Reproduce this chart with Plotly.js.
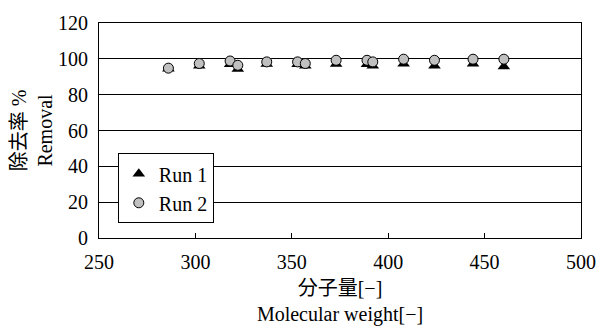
<!DOCTYPE html>
<html>
<head>
<meta charset="utf-8">
<script src="https://cdn.plot.ly/plotly-3.0.1.min.js"></script>
<style>html,body{margin:0;padding:0;background:#fff;}#chart{width:599px;height:326px;}</style>
</head>
<body>
<div id="chart"></div>
<script>
const molecularWeight = [286, 302, 318, 322, 337, 353, 357, 373, 389, 392, 408, 424, 444, 460];
const run1Removal = [94.5, 96.2, 97, 94.3, 97.1, 97, 96.2, 97.1, 97, 96.2, 97.2, 96.2, 97.2, 95.7];
const run2Removal = [94.8, 97.4, 98.8, 96.4, 98.3, 98.3, 97.4, 99.2, 99.2, 98.3, 99.8, 99.2, 99.8, 99.8];
const seriesNames = ["Run 1", "Run 2"];
const xTicks = [250, 300, 350, 400, 450, 500];
const yTicks = [0, 20, 40, 60, 80, 100, 120];

const FONT = "Liberation Serif, Noto Sans CJK JP, serif";

const traces = [
  {
    x: molecularWeight, y: run1Removal, name: seriesNames[0], type: "scatter", mode: "markers",
    marker: {symbol: "triangle-up", size: 11, color: "#000000", line: {color: "#000000", width: 0}}
  },
  {
    x: molecularWeight, y: run2Removal, name: seriesNames[1], type: "scatter", mode: "markers",
    marker: {symbol: "circle", size: 10, color: "#c0c0c0", line: {color: "#000000", width: 1}}
  }
];

const layout = {
  width: 599, height: 326,
  margin: {l: 99, r: 18, t: 23, b: 88},
  paper_bgcolor: "#ffffff", plot_bgcolor: "#ffffff",
  font: {family: FONT, size: 20, color: "#000000"},
  showlegend: true,
  legend: {
    x: 0.039, y: 0.394, xanchor: "left", yanchor: "top",
    bgcolor: "#ffffff", bordercolor: "#000000", borderwidth: 1,
    font: {family: FONT, size: 20, color: "#000000"},
    itemwidth: 30, tracegroupgap: 0
  },
  xaxis: {
    range: [250, 500], tickvals: xTicks, ticktext: xTicks.map(String),
    showgrid: false, zeroline: false,
    showline: true, linecolor: "#000000", linewidth: 1, mirror: true,
    ticks: "inside", ticklen: 5, tickcolor: "#000000",
    ticklabelstandoff: 6,
    tickfont: {family: FONT, size: 20},
    title: {text: "分子量[−]<br>Molecular weight[−]", font: {family: FONT, size: 20}, standoff: 14}
  },
  yaxis: {
    range: [0, 120], tickvals: yTicks, ticktext: yTicks.map(String),
    showgrid: true, gridcolor: "#000000", gridwidth: 1, zeroline: false,
    showline: true, linecolor: "#000000", linewidth: 1, mirror: true,
    ticks: "",
    ticklabelstandoff: 6,
    tickfont: {family: FONT, size: 20},
    title: {text: "除去率 %<br>Removal", font: {family: FONT, size: 20}, standoff: 0}
  }
};

Plotly.newPlot("chart", traces, layout, {displayModeBar: false, staticPlot: true});
</script>
</body>
</html>
